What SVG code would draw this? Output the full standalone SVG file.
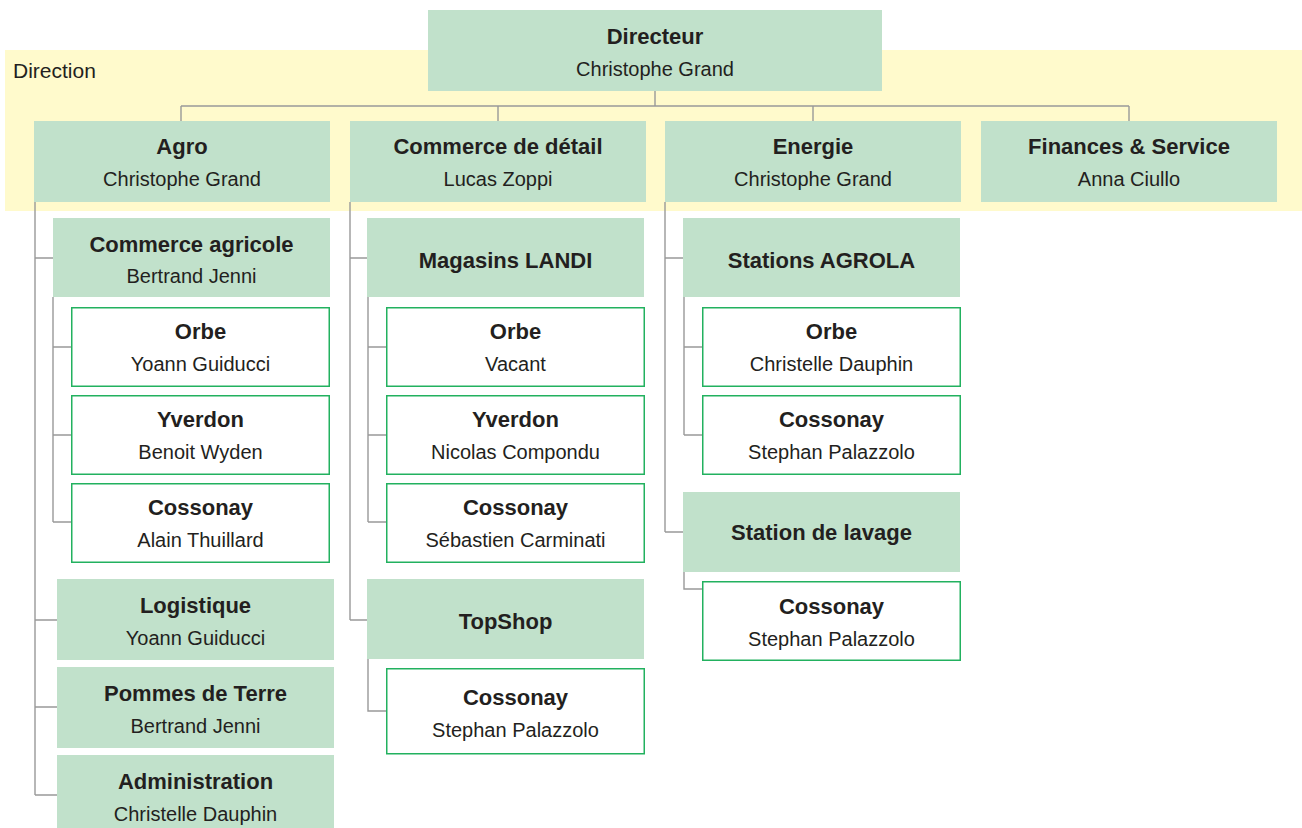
<svg xmlns="http://www.w3.org/2000/svg" width="1302" height="828" viewBox="0 0 1302 828">
<style>
.g{fill:#c1e1cb}
.w{fill:#ffffff;stroke:#22b15f;stroke-width:1.5}
.t{font-family:"Liberation Sans",Arial,sans-serif;font-weight:bold;font-size:22px;fill:#231f20;text-anchor:middle}
.n{font-family:"Liberation Sans",Arial,sans-serif;font-size:20px;fill:#231f20;text-anchor:middle}
.c{fill:none;stroke:#999999;stroke-width:1.4}
</style>
<rect x="5" y="50" width="1297" height="161" fill="#fffacc"/>
<text x="13" y="78" font-family="Liberation Sans, Arial, sans-serif" font-size="21" fill="#231f20">Direction</text>
<g id="connectors" class="c">
<path d="M655 91V106M181 106H1129M181 106V121M498 106V121M813 106V121M1129 106V121"/>
<path d="M35 202V795M35 258H53M35 620H57M35 707H57M35 795H57"/>
<path d="M53 297V522M53 347H71M53 435H71M53 522H71"/>
<path d="M350 202V620M350 258H367M350 620H367"/>
<path d="M368 297V522M368 347H386M368 435H386M368 522H386"/>
<path d="M368 659V711H386"/>
<path d="M665 202V532M665 258H683M665 532H683"/>
<path d="M684 297V435M684 347H702M684 435H702"/>
<path d="M684 572V589H702"/>
</g>
<g id="directeur"><rect class="g" x="428" y="10" width="454" height="81"/><text class="t" x="655" y="44">Directeur</text><text class="n" x="655" y="76">Christophe Grand</text></g>
<g id="agro"><rect class="g" x="34" y="121" width="296" height="81"/><text class="t" x="182" y="154">Agro</text><text class="n" x="182" y="186">Christophe Grand</text></g>
<g id="commerce-detail"><rect class="g" x="350" y="121" width="296" height="81"/><text class="t" x="498" y="154">Commerce de détail</text><text class="n" x="498" y="186">Lucas Zoppi</text></g>
<g id="energie"><rect class="g" x="665" y="121" width="296" height="81"/><text class="t" x="813" y="154">Energie</text><text class="n" x="813" y="186">Christophe Grand</text></g>
<g id="finances"><rect class="g" x="981" y="121" width="296" height="81"/><text class="t" x="1129" y="154">Finances &amp; Service</text><text class="n" x="1129" y="186">Anna Ciullo</text></g>
<g id="commerce-agricole"><rect class="g" x="53" y="218" width="277" height="79"/><text class="t" x="191.5" y="252">Commerce agricole</text><text class="n" x="191.5" y="283">Bertrand Jenni</text></g>
<g id="ca-orbe"><rect class="w" x="71.75" y="307.75" width="257.5" height="78.5"/><text class="t" x="200.5" y="339">Orbe</text><text class="n" x="200.5" y="371">Yoann Guiducci</text></g>
<g id="ca-yverdon"><rect class="w" x="71.75" y="395.75" width="257.5" height="78.5"/><text class="t" x="200.5" y="427">Yverdon</text><text class="n" x="200.5" y="459">Benoit Wyden</text></g>
<g id="ca-cossonay"><rect class="w" x="71.75" y="483.75" width="257.5" height="78.5"/><text class="t" x="200.5" y="515">Cossonay</text><text class="n" x="200.5" y="547">Alain Thuillard</text></g>
<g id="logistique"><rect class="g" x="57" y="579" width="277" height="81"/><text class="t" x="195.5" y="613">Logistique</text><text class="n" x="195.5" y="645">Yoann Guiducci</text></g>
<g id="pommes"><rect class="g" x="57" y="667" width="277" height="81"/><text class="t" x="195.5" y="701">Pommes de Terre</text><text class="n" x="195.5" y="733">Bertrand Jenni</text></g>
<g id="administration"><rect class="g" x="57" y="755" width="277" height="81"/><text class="t" x="195.5" y="789">Administration</text><text class="n" x="195.5" y="821">Christelle Dauphin</text></g>
<g id="landi"><rect class="g" x="367" y="218" width="277" height="79"/><text class="t" x="505.5" y="268">Magasins LANDI</text></g>
<g id="landi-orbe"><rect class="w" x="386.75" y="307.75" width="257.5" height="78.5"/><text class="t" x="515.5" y="339">Orbe</text><text class="n" x="515.5" y="371">Vacant</text></g>
<g id="landi-yverdon"><rect class="w" x="386.75" y="395.75" width="257.5" height="78.5"/><text class="t" x="515.5" y="427">Yverdon</text><text class="n" x="515.5" y="459">Nicolas Compondu</text></g>
<g id="landi-cossonay"><rect class="w" x="386.75" y="483.75" width="257.5" height="78.5"/><text class="t" x="515.5" y="515">Cossonay</text><text class="n" x="515.5" y="547">Sébastien Carminati</text></g>
<g id="topshop"><rect class="g" x="367" y="579" width="277" height="80"/><text class="t" x="505.5" y="629">TopShop</text></g>
<g id="topshop-cossonay"><rect class="w" x="386.75" y="668.75" width="257.5" height="85"/><text class="t" x="515.5" y="705">Cossonay</text><text class="n" x="515.5" y="737">Stephan Palazzolo</text></g>
<g id="agrola"><rect class="g" x="683" y="218" width="277" height="79"/><text class="t" x="821.5" y="268">Stations AGROLA</text></g>
<g id="agrola-orbe"><rect class="w" x="702.75" y="307.75" width="257.5" height="78.5"/><text class="t" x="831.5" y="339">Orbe</text><text class="n" x="831.5" y="371">Christelle Dauphin</text></g>
<g id="agrola-cossonay"><rect class="w" x="702.75" y="395.75" width="257.5" height="78.5"/><text class="t" x="831.5" y="427">Cossonay</text><text class="n" x="831.5" y="459">Stephan Palazzolo</text></g>
<g id="lavage"><rect class="g" x="683" y="492" width="277" height="80"/><text class="t" x="821.5" y="540">Station de lavage</text></g>
<g id="lavage-cossonay"><rect class="w" x="702.75" y="581.75" width="257.5" height="78.5"/><text class="t" x="831.5" y="614">Cossonay</text><text class="n" x="831.5" y="646">Stephan Palazzolo</text></g>
</svg>
